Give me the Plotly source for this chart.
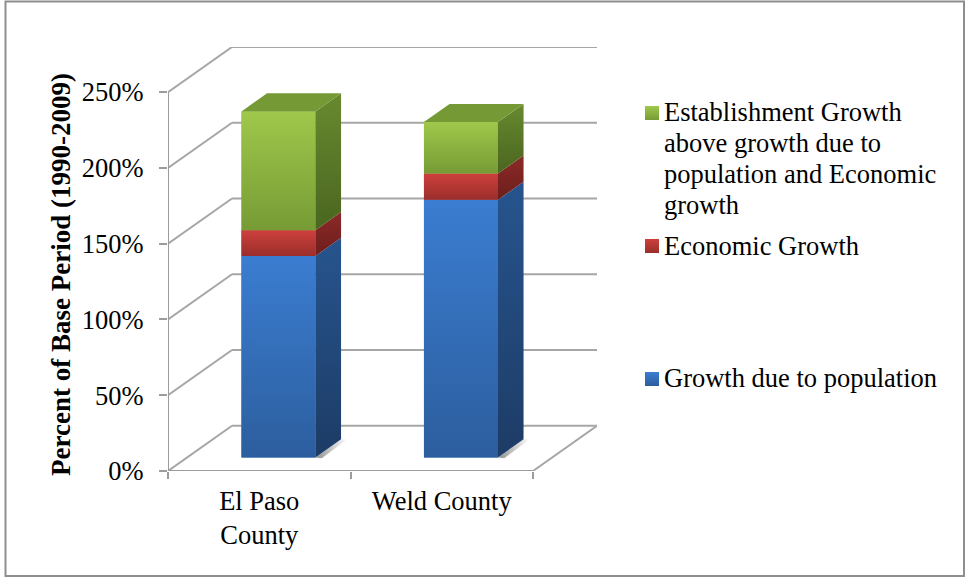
import plotly.graph_objects as go

W, H = 965, 577
counties = ["El Paso<br>County", "Weld County"]
pop = [133.0, 170.0]
econ = [17.0, 17.4]
estab = [78.4, 34.0]
y_ticks = [0, 50, 100, 150, 200, 250]
y_labels = ["0%", "50%", "100%", "150%", "200%", "250%"]
series_names = ["Growth due to population", "Economic Growth",
                "Establishment Growth<br>above growth due to<br>population and Economic<br>growth"]

FONT = "Liberation Serif"
FS = 26.5
GRID = "#a6a6a6"
AXIS = "#9c9c9c"

# projection of the 3-D wall: full depth in data units
DX, DY = 64 / 182.5, 29.84
FRONT_D, BAR_D = 0.30, 0.40
BAR_W = 74 / 182.5

styles = [
    dict(front=("#3b7dd1", "#2c5e9e"), side=("#27548e", "#1d3c66")),
    dict(front=("#ce403c", "#9a2e2b"), side=("#8c2a28", "#6c1e1c")),
    dict(front=("#9fc84b", "#779b35"), side=("#68892f", "#4a6620")),
]
top_color = "#759a35"
values = [pop, econ, estab]

fig = go.Figure()

shapes = []
def seg(x0, y0, x1, y1, color=GRID, width=2):
    shapes.append(dict(type="line", xref="x", yref="y", x0=x0, y0=y0, x1=x1, y1=y1,
                       layer="below", line=dict(color=color, width=width)))

x_end = len(counties)
for v in y_ticks:
    seg(0, v, DX, v + DY)
    seg(DX, v + DY, x_end + DX, v + DY)
seg(x_end, 0, x_end + DX, DY)
seg(0, 0, 0, y_ticks[-1], AXIS)
seg(0, 0, x_end, 0, AXIS)

centers = [i + 0.5 for i in range(len(counties))]

# soft floor shadow
for c in centers:
    xr = c + FRONT_D * DX + BAR_W / 2
    y0 = FRONT_D * DY
    fig.add_trace(go.Scatter(
        x=[xr, xr + BAR_D * DX, xr + BAR_D * DX + 0.035, xr + 0.035], y=[y0, y0 + BAR_D * DY, y0 + BAR_D * DY, y0 - 0.5],
        mode="lines", line=dict(width=0), fill="toself", showlegend=False, hoverinfo="skip",
        fillgradient=dict(type="horizontal", colorscale=[[0, "#8f8f8f"], [1, "#ffffff"]])))

# front faces
cum = [0.0 for _ in counties]
for k, vals in enumerate(values):
    st = styles[k]
    base = [b + FRONT_D * DY for b in cum]
    fig.add_trace(go.Bar(
        x=[c + FRONT_D * DX for c in centers], y=vals, base=base, width=BAR_W,
        marker=dict(color=st["front"][0], line=dict(width=0)), name=series_names[k], showlegend=False))
    cum = [a + b for a, b in zip(cum, vals)]

cum = [0.0 for _ in counties]
for k, vals in enumerate(values):
    st = styles[k]
    for i, c in enumerate(centers):
        xl = c + FRONT_D * DX - BAR_W / 2
        xr = xl + BAR_W
        b = cum[i] + FRONT_D * DY
        t = b + vals[i]
        grad_front = [[0, st["front"][1]], [1, st["front"][0]]]
        grad_side = [[0, st["side"][1]], [1, st["side"][0]]]
        fig.add_trace(go.Scatter(
            x=[xl, xr, xr, xl, xl], y=[b, b, t, t, b], mode="lines", line=dict(width=0),
            fill="toself", fillgradient=dict(type="vertical", colorscale=grad_front),
            showlegend=False, hoverinfo="skip"))
        fig.add_trace(go.Scatter(
            x=[xr, xr + BAR_D * DX, xr + BAR_D * DX, xr, xr],
            y=[b, b + BAR_D * DY, t + BAR_D * DY, t, b], mode="lines", line=dict(width=0),
            fill="toself", fillgradient=dict(type="vertical", colorscale=grad_side),
            showlegend=False, hoverinfo="skip"))
    cum = [a + b for a, b in zip(cum, vals)]

# top faces
for i, c in enumerate(centers):
    xl = c + FRONT_D * DX - BAR_W / 2
    xr = xl + BAR_W
    t = cum[i] + FRONT_D * DY
    fig.add_trace(go.Scatter(
        x=[xl, xr, xr + BAR_D * DX, xl + BAR_D * DX, xl],
        y=[t, t, t + BAR_D * DY, t + BAR_D * DY, t], mode="lines", line=dict(width=0),
        fill="toself", fillcolor=top_color, showlegend=False, hoverinfo="skip"))

# legend swatches and text, on a page-sized hidden axis pair
legend_rows = [(2, 106, 112), (1, 239, 246), (0, 372, 378)]
LINE_STEP = 31
annotations = []
for k, ytop, ytext in legend_rows:
    fig.add_trace(go.Scatter(
        x=[645, 659, 659, 645, 645], y=[ytop, ytop, ytop + 14, ytop + 14, ytop], xaxis="x2", yaxis="y2",
        mode="lines", line=dict(width=0), fill="toself",
        fillgradient=dict(type="vertical", colorscale=[[0, styles[k]["front"][1]], [1, styles[k]["front"][0]]]),
        showlegend=False, hoverinfo="skip"))
    for n, line in enumerate(series_names[k].split("<br>")):
        annotations.append(dict(text=line, xref="paper", yref="paper", x=662 / W,
                                y=1 - (ytext + n * LINE_STEP) / H,
                                xanchor="left", yanchor="middle", align="left", showarrow=False,
                                font=dict(family=FONT, size=FS, color="black")))
annotations.append(dict(text="<b>Percent of Base Period (1990-2009)</b>", xref="paper", yref="paper",
                        x=61 / W, y=1 - 275 / H, textangle=-90, showarrow=False, xanchor="center", yanchor="middle",
                        font=dict(family=FONT, size=27, color="black")))

shapes.append(dict(type="rect", xref="paper", yref="paper", x0=5.5 / W, x1=964 / W, y0=1 - 576 / H, y1=1 - 1.5 / H,
                   line=dict(color="#8e8e8e", width=2), layer="below"))

fig.update_layout(
    width=W, height=H, autosize=False, margin=dict(l=0, r=0, t=0, b=0),
    paper_bgcolor="white", plot_bgcolor="rgba(0,0,0,0)", barmode="overlay", showlegend=False,
    font=dict(family=FONT, size=FS, color="black"),
    shapes=shapes, annotations=annotations,
    xaxis=dict(domain=[168 / W, 597 / W], range=[0, x_end + DX], tickmode="array", automargin=False,
               tickvals=centers, ticktext=counties, ticks="", showgrid=False, zeroline=False, showline=False,
               ticklabelstandoff=11, minor=dict(tickmode="array", tickvals=[0, 1, 2], ticks="outside", ticklen=7, tickwidth=2,
                          tickcolor=AXIS, showgrid=False),
               tickfont=dict(family=FONT, size=FS), fixedrange=True),
    yaxis=dict(domain=[1 - 471 / H, 1 - 47 / H], range=[0, y_ticks[-1] + DY], tickmode="array", automargin=False,
               tickvals=y_ticks, ticktext=y_labels, ticks="outside", ticklen=8, tickwidth=2, tickcolor=AXIS,
               ticklabelstandoff=10, showgrid=False, zeroline=False, showline=False,
               tickfont=dict(family=FONT, size=FS), fixedrange=True),
    xaxis2=dict(domain=[0, 1], range=[0, W], visible=False, anchor="y2", automargin=False),
    yaxis2=dict(domain=[0, 1], range=[H, 0], visible=False, anchor="x2", automargin=False),
)

fig.write_html("out.html", config=dict(displayModeBar=False), post_script="document.body.style.margin='0';")
